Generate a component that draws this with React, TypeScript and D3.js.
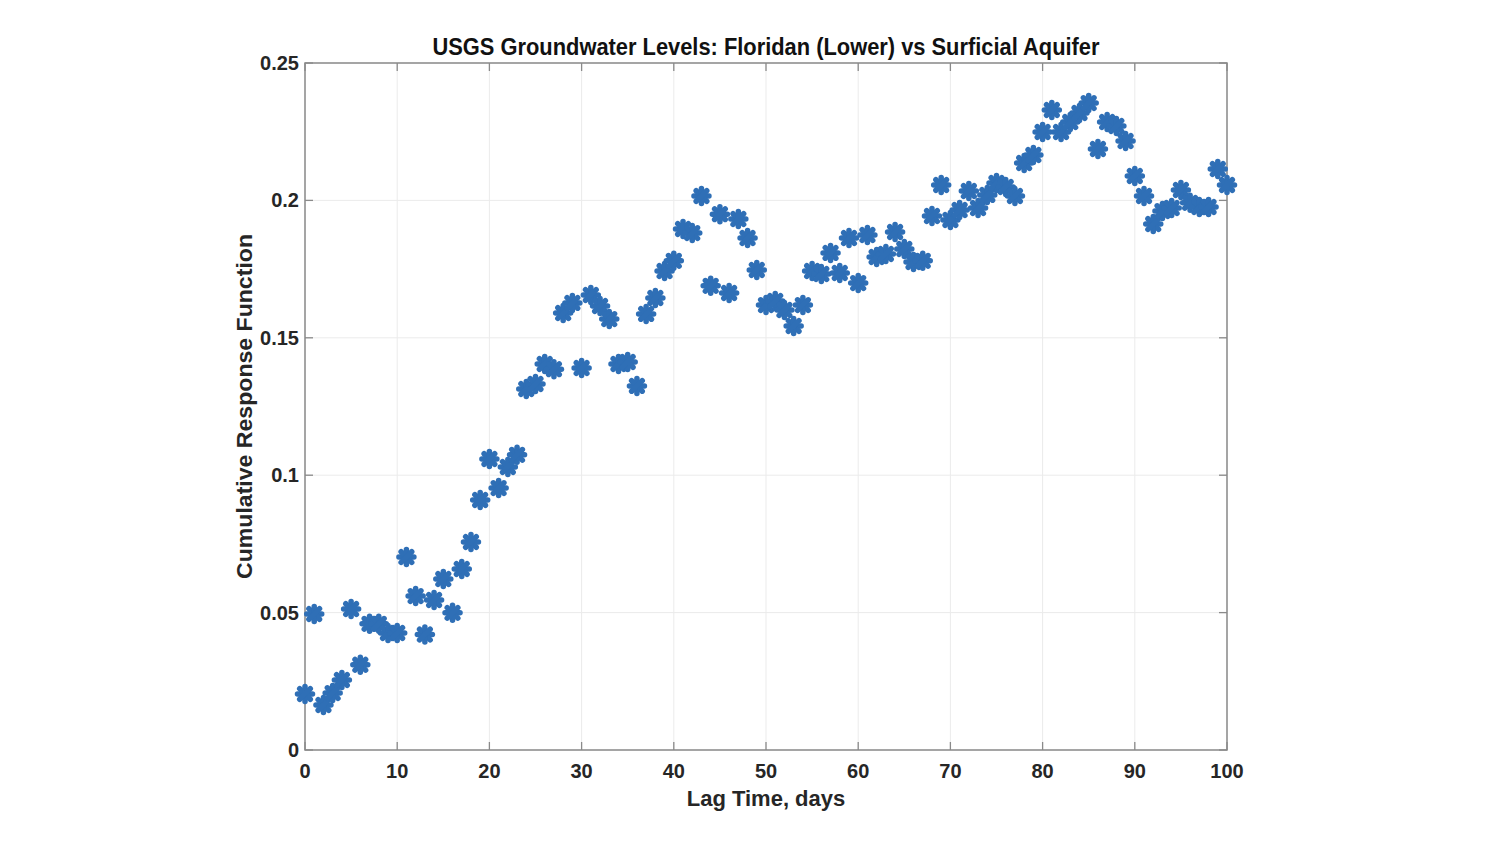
import React from "react";
import * as d3 from "d3";

const lagDays: number[] = Array.from({ length: 101 }, (_, i) => i);
const responseValues: number[] = [
  0.0204, 0.0495, 0.0164, 0.0207, 0.0255, 0.0513, 0.031, 0.0459, 0.0459, 0.0426,
  0.0426, 0.0702, 0.056, 0.042, 0.0546, 0.0622, 0.0499, 0.0659, 0.0757, 0.091,
  0.1059, 0.0953, 0.103, 0.1074, 0.1314, 0.1332, 0.1405, 0.1386, 0.159, 0.1627,
  0.139, 0.1656, 0.1616, 0.1568, 0.1405, 0.1412, 0.1325, 0.1587, 0.1645, 0.1743,
  0.178, 0.1896, 0.1881, 0.2016, 0.1689, 0.195, 0.1663, 0.1932, 0.1863, 0.1747,
  0.1619, 0.1634, 0.1601, 0.1543, 0.1619, 0.1743, 0.1732, 0.1809, 0.1736, 0.1863,
  0.1699, 0.1874, 0.1794, 0.1805, 0.1885, 0.1823, 0.1776, 0.178, 0.1943, 0.2056,
  0.1929, 0.1965, 0.2034, 0.1972, 0.202, 0.2063, 0.2049, 0.2016, 0.2136, 0.2165,
  0.2249, 0.2329, 0.2249, 0.2285, 0.2318, 0.2354, 0.2187, 0.2285, 0.2271, 0.2216,
  0.2089, 0.2016, 0.1914, 0.1961, 0.1972, 0.2038, 0.1991, 0.1976, 0.1976, 0.2114,
  0.2056,
];
const xTicks: number[] = [0, 10, 20, 30, 40, 50, 60, 70, 80, 90, 100];
const yTicks: number[] = [0, 0.05, 0.1, 0.15, 0.2, 0.25];
const yTickLabels: string[] = ["0", "0.05", "0.1", "0.15", "0.2", "0.25"];

const titleText = "USGS Groundwater Levels: Floridan (Lower) vs Surficial Aquifer";
const xLabel = "Lag Time, days";
const yLabel = "Cumulative Response Function";

export default function App() {
  const W = 1500, H = 844;
  const left = 305, right = 1227, top = 63, bottom = 750;
  const x = d3.scaleLinear().domain([0, 100]).range([left, right]);
  const y = d3.scaleLinear().domain([0, 0.25]).range([bottom, top]);
  const font = "'Liberation Sans', Arial, Helvetica, sans-serif";
  const markerColor = "#2f6fb6";
  const r = 7.5;
  const angles = [0, 45, 90, 135];
  return (
    <svg width={W} height={H} style={{ position: "absolute", left: 0, top: 0, background: "#fff" }}>
      <rect x={0} y={0} width={W} height={H} fill="#fff" />
      {xTicks.map((t) => (
        <line key={"gx" + t} x1={x(t)} x2={x(t)} y1={top} y2={bottom} stroke="#ebebeb" strokeWidth={1} />
      ))}
      {yTicks.map((t) => (
        <line key={"gy" + t} x1={left} x2={right} y1={y(t)} y2={y(t)} stroke="#ebebeb" strokeWidth={1} />
      ))}
      <rect x={left} y={top} width={right - left} height={bottom - top} fill="none" stroke="#8a8a8a" strokeWidth={1.5} />
      {xTicks.map((t) => (
        <g key={"tx" + t}>
          <line x1={x(t)} x2={x(t)} y1={bottom} y2={bottom - 8} stroke="#8a8a8a" strokeWidth={1.3} />
          <line x1={x(t)} x2={x(t)} y1={top} y2={top + 8} stroke="#8a8a8a" strokeWidth={1.3} />
          <text x={x(t)} y={bottom + 28} textAnchor="middle" fontFamily={font} fontWeight="bold" fontSize={20} fill="#262626">
            {t}
          </text>
        </g>
      ))}
      {yTicks.map((t, i) => (
        <g key={"ty" + t}>
          <line x1={left} x2={left + 8} y1={y(t)} y2={y(t)} stroke="#8a8a8a" strokeWidth={1.3} />
          <line x1={right} x2={right - 8} y1={y(t)} y2={y(t)} stroke="#8a8a8a" strokeWidth={1.3} />
          <text x={left - 6} y={y(t) + 7} textAnchor="end" fontFamily={font} fontWeight="bold" fontSize={20} fill="#262626">
            {yTickLabels[i]}
          </text>
        </g>
      ))}
      {lagDays.map((d, i) => {
        const cx = x(d), cy = y(responseValues[i]);
        return (
          <g key={"m" + i} transform={`translate(${cx},${cy})`}>
            {angles.map((a) => {
              const rad = (a * Math.PI) / 180;
              const dx = Math.cos(rad) * r, dy = Math.sin(rad) * r;
              return (
                <line key={a} x1={-dx} y1={-dy} x2={dx} y2={dy} stroke={markerColor} strokeWidth={5.5} strokeLinecap="round" />
              );
            })}
          </g>
        );
      })}
      <text x={(left + right) / 2} y={55} textAnchor="middle" fontFamily={font} fontWeight="bold" fontSize={23} fill="#111" textLength={667} lengthAdjust="spacingAndGlyphs">
        {titleText}
      </text>
      <text x={(left + right) / 2} y={806} textAnchor="middle" fontFamily={font} fontWeight="bold" fontSize={22} fill="#262626">
        {xLabel}
      </text>
      <text transform={`translate(252,${(top + bottom) / 2}) rotate(-90)`} textAnchor="middle" fontFamily={font} fontWeight="bold" fontSize={22} fill="#262626" textLength={345} lengthAdjust="spacingAndGlyphs">
        {yLabel}
      </text>
    </svg>
  );
}
